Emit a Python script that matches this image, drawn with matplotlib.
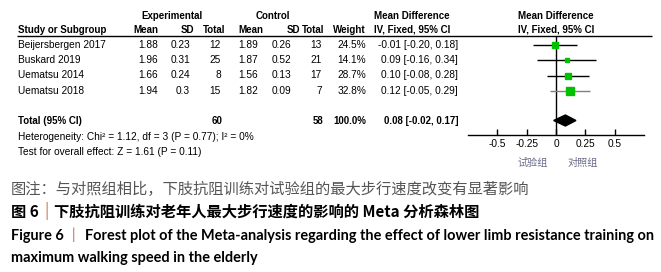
import matplotlib
matplotlib.use("Agg")
import matplotlib.pyplot as plt
import numpy as np

# study data
studies = ['Beijersbergen 2017', 'Buskard 2019', 'Uematsu 2014', 'Uematsu 2018']
exp_mean = [1.88, 1.96, 1.66, 1.94]
exp_sd = [0.23, 0.31, 0.24, 0.3]
exp_n = [12, 25, 8, 15]
ctl_mean = [1.89, 1.87, 1.56, 1.82]
ctl_sd = [0.26, 0.52, 0.13, 0.09]
ctl_n = [13, 21, 17, 7]
weights = [24.5, 14.1, 28.7, 32.8]
md = [-0.01, 0.09, 0.10, 0.12]
ci_lo = [-0.20, -0.16, -0.08, -0.05]
ci_hi = [0.18, 0.34, 0.28, 0.29]
total_md, total_lo, total_hi = 0.08, -0.02, 0.17
xticks = [-0.5, -0.25, 0, 0.25, 0.5]
xtick_labels = ['-0.5', '-0.25', '0', '0.25', '0.5']

W, H = 661, 272
fig = plt.figure(figsize=(W / 100, H / 100), dpi=100)
bg = fig.add_axes([0, 0, 1, 1])
bg.set_xlim(0, W)
bg.set_ylim(H, 0)
bg.axis('off')

TF = 'Liberation Sans'
fs = 7.3
row_y = [45, 60, 75.5, 91]
ty = 120.5


def t(x, y, s, ha='left', bold=False, size=fs, **kw):
    bg.text(x, y, s, ha=ha, va='center', fontsize=size, family=TF,
            fontweight='bold' if bold else 'normal', **kw)


# headers
hs = 7.0
t(172, 16, 'Experimental', ha='center', bold=True, size=hs)
t(273, 16, 'Control', ha='center', bold=True, size=hs)
t(412, 16, 'Mean Difference', ha='center', bold=True, size=hs)
t(556, 16, 'Mean Difference', ha='center', bold=True, size=hs)
t(18, 30, 'Study or Subgroup', bold=True, size=hs)
for x, s in [(158, 'Mean'), (194, 'SD'), (225, 'Total'), (263, 'Mean'),
             (300, 'SD'), (324, 'Total'), (366, 'Weight')]:
    t(x, 30, s, ha='right', bold=True, size=hs)
t(412, 30, 'IV, Fixed, 95% CI', ha='center', bold=True, size=hs)
t(556, 30, 'IV, Fixed, 95% CI', ha='center', bold=True, size=hs)
bg.hlines(36, 17, 652, color='black', lw=1)

# study rows
for i, y in enumerate(row_y):
    t(18, y, studies[i])
    t(158, y, str(exp_mean[i]), ha='right')
    t(190, y, str(exp_sd[i]), ha='right')
    t(221, y, str(exp_n[i]), ha='right')
    t(258, y, str(ctl_mean[i]), ha='right')
    t(291, y, str(ctl_sd[i]), ha='right')
    t(322, y, str(ctl_n[i]), ha='right')
    t(366, y, '%.1f%%' % weights[i], ha='right')
    t(458, y, '%.2f [%.2f, %.2f]' % (md[i], ci_lo[i], ci_hi[i]), ha='right')

t(18, ty, 'Total (95% CI)', bold=True, size=hs)
t(223, ty, str(sum(exp_n)), ha='right', bold=True, size=hs)
t(323, ty, str(sum(ctl_n)), ha='right', bold=True, size=hs)
t(366, ty, '100.0%', ha='right', bold=True, size=hs)
t(458, ty, '%.2f [%.2f, %.2f]' % (total_md, total_lo, total_hi), ha='right', bold=True, size=hs)
t(18, 137.5, 'Heterogeneity: Chi² = 1.12, df = 3 (P = 0.77); I² = 0%')
t(18, 152, 'Test for overall effect: Z = 1.61 (P = 0.11)')

# forest panel
fa = fig.add_axes([468 / W, 0, (644 - 468) / W, 1])
fa.patch.set_alpha(0)
fa.set_xlim(-0.75, 0.75)
fa.set_ylim(H, 0)
for s in ['top', 'left', 'right']:
    fa.spines[s].set_visible(False)
fa.spines['bottom'].set_position(('data', 135))
fa.spines['bottom'].set_linewidth(1)
fa.set_yticks([])
fa.set_xticks(xticks)
fa.set_xticklabels(xtick_labels, fontsize=fs, family=TF)
fa.tick_params(axis='x', direction='in', length=4, width=1, pad=3)
fa.vlines(0, 36, 135, color='black', lw=1)

ci_colors = ['black', 'black', 'black', '#808080']
for i, y in enumerate(row_y):
    fa.hlines(y, ci_lo[i], ci_hi[i], color=ci_colors[i], lw=1)
    ms = 5.3 * np.sqrt(weights[i] / max(weights))
    fa.plot(md[i], y, 's', color='#00c000', mec='#00c000', ms=ms)
fa.fill([total_lo, total_md, total_hi, total_md],
        [ty, ty - 5.5, ty, ty + 5.5], color='black')

cjk = ['Noto Sans CJK SC', 'DejaVu Sans']
fa.text(-0.2, 163, '试验组', ha='center', va='center', fontsize=fs, family=cjk, color='#6a6a8a')
fa.text(0.23, 163, '对照组', ha='center', va='center', fontsize=fs, family=cjk, color='#6a6a8a')

# captions
bg.text(11, 189, '图注：与对照组相比，下肢抗阻训练对试验组的最大步行速度改变有显著影响',
        va='center', fontsize=11, family=cjk, color='#555555')
bg.text(11, 212, '图 6', va='center', fontsize=11, family=cjk, fontweight='bold')
bg.text(44, 211, '|', va='center', fontsize=11, family=cjk, color='#c07050')
bg.text(54, 212, '下肢抗阻训练对老年人最大步行速度的影响的 Meta 分析森林图',
        va='center', fontsize=11, family=cjk, fontweight='bold')
bg.text(11, 236, 'Figure 6', va='center', fontsize=10.45, family='Lato', fontweight='bold')
bg.text(72, 235, '|', va='center', fontsize=10.45, family='Lato', color='#c07050')
bg.text(85, 236, 'Forest plot of the Meta-analysis regarding the effect of lower limb resistance training on',
        va='center', fontsize=10.45, family='Lato', fontweight='bold')
bg.text(11, 258, 'maximum walking speed in the elderly', va='center', fontsize=10.45,
        family='Lato', fontweight='bold')

fig.savefig('out.png', dpi=100)
